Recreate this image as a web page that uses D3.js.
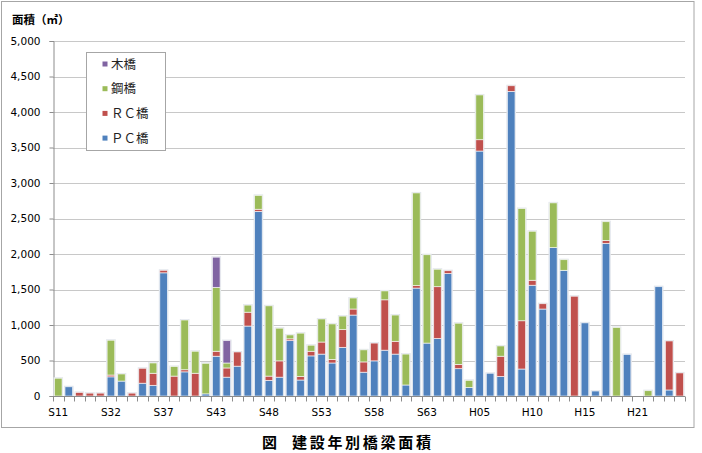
<!DOCTYPE html>
<meta charset="utf-8">
<style>
  body { margin: 0; background: #fff; }
  text { font-family: "DejaVu Sans", sans-serif; }
  .jp { font-family: "Noto Sans CJK JP", sans-serif; }
</style>
<script src="https://cdnjs.cloudflare.com/ajax/libs/d3/7.8.5/d3.min.js"></script>
<div id="chart"></div>
<script>

// categories (construction year), only every 5th is labelled on the axis
var years = ["S11","S26","S28","S30","S31","S32","S33","S34","S35","S36",
             "S37","S38","S39","S40","S42","S43","S44","S45","S46","S47",
             "S48","S49","S50","S51","S52","S53","S54","S55","S56","S57",
             "S58","S59","S60","S61","S62","S63","H01","H02","H03","H04",
             "H05","H06","H07","H08","H09","H10","H11","H12","H13","H14",
             "H15","H16","H17","H18","H19","H21","H22","H23","H24","H25"];

// area (m2) per bridge type
var pcBridge = [0,130,0,0,0,270,210,0,180,150,
                1735,0,340,0,30,560,265,420,985,2600,
                220,265,780,225,565,590,465,685,1140,335,
                495,645,590,155,1520,745,810,1725,385,120,
                3450,320,275,4290,380,1560,1225,2090,1770,0,
                1030,70,2150,0,585,0,0,1540,85,0];
var rcBridge = [0,0,50,40,40,25,0,40,210,170,
                35,280,30,320,0,70,130,200,195,30,
                60,230,25,50,65,170,50,250,85,145,
                250,710,180,0,35,0,730,40,60,0,
                160,0,285,80,680,70,75,0,0,1405,
                0,0,40,0,0,0,0,0,690,325];
var steelBridge = [250,0,0,0,0,490,100,0,0,145,
                   0,135,700,310,430,900,70,0,100,195,
                   990,460,55,610,85,325,500,190,155,170,
                   0,125,370,435,1305,1245,245,0,580,100,
                   630,0,145,0,1580,690,0,630,150,0,
                   0,0,265,965,0,0,75,0,0,0];
var woodBridge = [0,0,0,0,0,0,0,0,0,0,
                  0,0,0,0,0,425,315,0,0,0,
                  0,0,0,0,0,0,0,0,0,0,
                  0,0,0,0,0,0,0,0,0,0,
                  0,0,0,0,0,0,0,0,0,0,
                  0,0,0,0,0,0,0,0,0,0];

var yTicks = [0,500,1000,1500,2000,2500,3000,3500,4000,4500,5000];

var keys = ["pc","rc","steel","wood"];
var names = {pc:"ＰＣ橋", rc:"ＲＣ橋", steel:"鋼橋", wood:"木橋"};
var colors = {pc:"#4f81bd", rc:"#c0504d", steel:"#9bbb59", wood:"#8064a2"};

var table = years.map(function(d, i) {
  return {year: d, pc: pcBridge[i], rc: rcBridge[i], steel: steelBridge[i], wood: woodBridge[i]};
});

var svg = d3.select("#chart")
  .append("svg")
    .attr("width", 702)
    .attr("height", 453);

// chart area border
svg.append("rect")
  .attr("x", 1.5).attr("y", 1.5)
  .attr("width", 692.5).attr("height", 426)
  .attr("fill", "#fff")
  .attr("stroke", "#a6a6a6");

var x = d3.scaleBand()
  .domain(years)
  .range([53, 685])
  .paddingInner(0.28)
  .paddingOuter(0.14);

var y = d3.scaleLinear()
  .domain([0, 5000])
  .range([396, 41]);

// gridlines
svg.append("g")
  .selectAll("line")
  .data(yTicks.slice(1))
  .enter()
  .append("line")
    .attr("x1", 53).attr("x2", 685)
    .attr("y1", function(d){ return Math.round(y(d)) + 0.5 })
    .attr("y2", function(d){ return Math.round(y(d)) + 0.5 })
    .attr("stroke", "#c8c8c8");

// y axis
var yAxis = svg.append("g")
  .attr("transform", "translate(53.5,0)")
  .call(d3.axisLeft(y).tickValues(yTicks).tickFormat(d3.format(",")).tickSize(4).tickPadding(9));
yAxis.select(".domain").attr("stroke", "#8c8c8c");
yAxis.selectAll(".tick line").attr("stroke", "#8c8c8c");
yAxis.selectAll("text").style("font-size", "10.5px").attr("fill", "#000");

// stacked bars
var stack = d3.stack().keys(keys)(table);

// soft halo behind each bar
svg.append("g")
  .selectAll("rect")
  .data(table.filter(function(d){ return d.pc + d.rc + d.steel + d.wood > 0 }))
  .enter()
  .append("rect")
    .attr("x", function(d){ return x(d.year) - 1 })
    .attr("width", x.bandwidth() + 2)
    .attr("y", function(d){ return y(d.pc + d.rc + d.steel + d.wood) - 1 })
    .attr("height", function(d){ return y(0) - y(d.pc + d.rc + d.steel + d.wood) + 1 })
    .attr("fill", "#dfe3ea");

svg.append("g")
  .selectAll("g")
  .data(stack)
  .enter()
  .append("g")
    .attr("fill", function(d){ return colors[d.key] })
  .selectAll("rect")
  .data(function(d){ return d.filter(function(p){ return p[1] > p[0] }) })
  .enter()
  .append("rect")
    .attr("x", function(d){ return x(d.data.year) })
    .attr("width", x.bandwidth())
    .attr("y", function(d){ return y(d[1]) })
    .attr("height", function(d){ return y(d[0]) - y(d[1]) })
    .attr("stroke", "#ffffff")
    .attr("stroke-opacity", 0.75)
    .attr("stroke-width", 0.8);

// x axis: ticks at every category boundary, labels every 5th
var xAxis = svg.append("g")
  .attr("transform", "translate(0,396.5)");
xAxis.append("line")
  .attr("x1", 53).attr("x2", 685)
  .attr("stroke", "#8c8c8c");
xAxis.selectAll(".bnd")
  .data(d3.range(years.length + 1))
  .enter()
  .append("line")
    .attr("x1", function(i){ return Math.round(53 + i * x.step()) + 0.5 })
    .attr("x2", function(i){ return Math.round(53 + i * x.step()) + 0.5 })
    .attr("y1", 0).attr("y2", 5)
    .attr("stroke", "#8c8c8c");
xAxis.selectAll(".lbl")
  .data(years.filter(function(d, i){ return i % 5 === 0 }))
  .enter()
  .append("text")
    .attr("x", function(d){ return x(d) + x.bandwidth() / 2 })
    .attr("y", 19.5)
    .attr("text-anchor", "middle")
    .style("font-size", "10.5px")
    .text(function(d){ return d });

// axis title
svg.append("text")
  .attr("class", "jp")
  .attr("x", 12)
  .attr("y", 24)
  .style("font-size", "11.5px")
  .style("font-weight", "bold")
  .text("面積（㎡）");

// legend
var legend = svg.append("g");
legend.append("rect")
  .attr("x", 86.5).attr("y", 52.5)
  .attr("width", 79).attr("height", 98)
  .attr("fill", "#fff")
  .attr("stroke", "#a6a6a6");

var legendKeys = keys.slice().reverse();
legend.selectAll(".sw")
  .data(legendKeys)
  .enter()
  .append("rect")
    .attr("x", 102.5)
    .attr("y", function(d, i){ return 61.5 + i * 24.7 })
    .attr("width", 5).attr("height", 5)
    .attr("fill", function(d){ return colors[d] });
legend.selectAll(".lt")
  .data(legendKeys)
  .enter()
  .append("text")
    .attr("class", "jp")
    .attr("x", 111)
    .attr("y", function(d, i){ return 68.5 + i * 24.7 })
    .style("font-size", "12.5px")
    .attr("fill", "#222")
    .text(function(d){ return names[d] });

// caption
svg.append("text")
  .attr("class", "jp")
  .attr("x", 262)
  .attr("y", 448)
  .style("font-size", "15px")
  .style("font-weight", "bold")
  .text("図");
svg.append("text")
  .attr("class", "jp")
  .attr("x", 292)
  .attr("y", 448)
  .style("font-size", "15px")
  .style("font-weight", "bold")
  .style("letter-spacing", "2.7px")
  .text("建設年別橋梁面積");

</script>
